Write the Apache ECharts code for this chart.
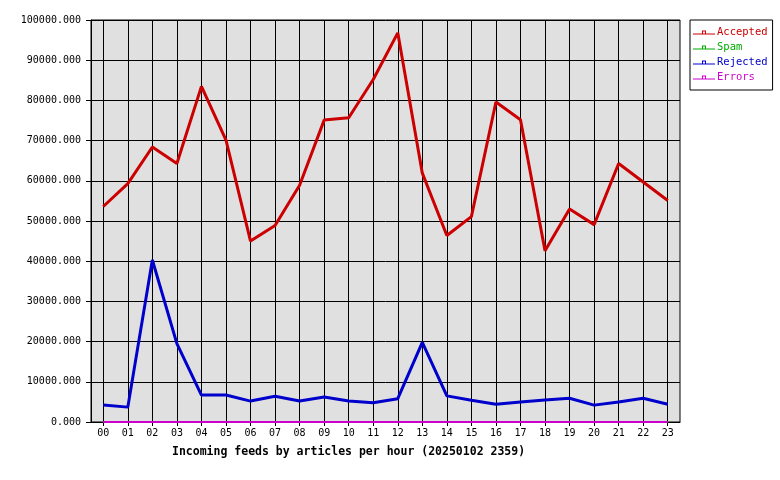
<!DOCTYPE html>
<html>
<head>
<meta charset="utf-8">
<script src="https://cdn.jsdelivr.net/npm/echarts@6/dist/echarts.min.js"></script>
<style>
html,body{margin:0;padding:0;background:#fff;}
#chart{width:780px;height:480px;}
</style>
</head>
<body>
<div id="chart"></div>
<script>
var hours = ['00','01','02','03','04','05','06','07','08','09','10','11','12','13','14','15','16','17','18','19','20','21','22','23'];
var accepted = [53600, 59300, 68400, 64300, 83500, 70100, 45000, 48900, 58900, 75100, 75700, 85200, 96800, 61900, 46400, 51100, 79600, 75200, 42600, 53000, 49100, 64300, 59700, 55100];
var spam = [0,0,0,0,0,0,0,0,0,0,0,0,0,0,0,0,0,0,0,0,0,0,0,0];
var rejected = [4200, 3700, 40300, 19500, 6700, 6700, 5200, 6400, 5200, 6200, 5200, 4800, 5800, 19800, 6500, 5400, 4400, 5000, 5500, 5900, 4200, 5000, 5900, 4400];
var errors = [0,0,0,0,0,0,0,0,0,0,0,0,0,0,0,0,0,0,0,0,0,0,0,0];
var seriesNames = ['Accepted','Spam','Rejected','Errors'];
var seriesColors = ['#cc0000','#00aa00','#0000cc','#cc00cc'];
var titleText = 'Incoming feeds by articles per hour (20250102 2359)';

var FONT = 'DejaVu Sans Mono';
var chart = echarts.init(document.getElementById('chart'), null, {renderer:'canvas'});
var icon = 'path://M0,5 L22,5 L22,6 L0,6 Z M9,2 L13,2 L13,6 L12,6 L12,3 L10,3 L10,6 L9,6 Z';
var datasets = [accepted, spam, rejected, errors];
var widths = [3, 2, 3, 2];
chart.setOption({
  animation: false,
  backgroundColor: '#ffffff',
  title: {
    text: titleText,
    left: 172, top: 446,
    padding: 0,
    textStyle: {fontFamily: FONT, fontSize: 11.5, fontWeight: 'bold', color: '#000'}
  },
  legend: {
    orient: 'vertical',
    left: 690, top: 20,
    padding: [7, 5, 7, 3],
    borderColor: '#000', borderWidth: 1,
    itemWidth: 22, itemHeight: 8, itemGap: 4,
    icon: icon,
    textStyle: {fontFamily: FONT, fontSize: 10.5, padding: [0,0,0,-3]},
    data: seriesNames.map(function(n, i){ return {name: n, textStyle: {color: seriesColors[i]}}; })
  },
  grid: {
    left: 91, right: 100, top: 20, bottom: 58,
    show: true, backgroundColor: '#e0e0e0', borderColor: '#000', borderWidth: 1,
    containLabel: false
  },
  xAxis: {
    type: 'category',
    data: hours,
    boundaryGap: true,
    axisLine: {lineStyle: {color: '#000', width: 1}},
    axisTick: {show: true, alignWithLabel: true, interval: 0, length: 4, lineStyle: {color: '#000'}},
    axisLabel: {interval: 0, margin: 6, fontFamily: FONT, fontSize: 10, color: '#000'},
    splitLine: {show: true, alignWithLabel: true, interval: 0, lineStyle: {color: '#000', width: 1}}
  },
  yAxis: {
    type: 'value',
    min: 0, max: 100000, interval: 10000,
    axisLine: {show: true, lineStyle: {color: '#000', width: 1}},
    axisTick: {show: true, length: 5, lineStyle: {color: '#000'}},
    axisLabel: {margin: 10, fontFamily: FONT, fontSize: 10, color: '#000',
      formatter: function(v){ return v.toFixed(3); }},
    splitLine: {show: true, lineStyle: {color: '#000', width: 1}}
  },
  series: seriesNames.map(function(n, i){
    return {
      name: n, type: 'line', data: datasets[i],
      symbol: 'none', smooth: false,
      lineStyle: {color: seriesColors[i], width: widths[i]},
      itemStyle: {color: seriesColors[i]},
      z: 2 + i
    };
  })
});
</script>
</body>
</html>
